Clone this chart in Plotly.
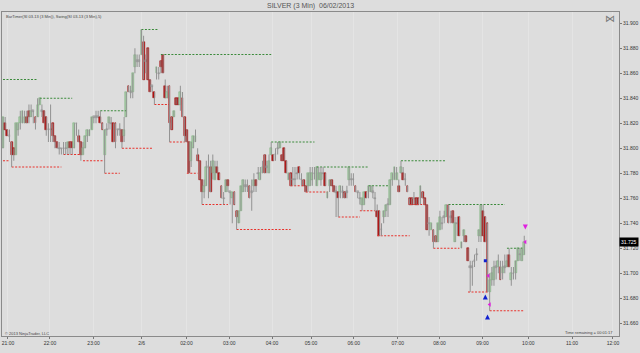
import plotly.graph_objects as go

# ---------------- data ----------------
opens = [
 31.800,31.820,31.815,31.810,31.805,31.800,31.795,31.815,31.820,31.820,
 31.820,31.825,31.830,31.825,31.830,31.825,31.825,31.835,31.830,31.830,
 31.825,31.815,31.815,31.820,31.810,31.805,31.800,31.800,31.800,31.800,
 31.800,31.805,31.805,31.800,31.820,31.810,31.805,31.795,31.800,31.810,
 31.810,31.815,31.825,31.825,31.825,31.825,31.820,31.795,31.815,31.820,
 31.820,31.820,31.820,31.815,31.815,31.815,31.810,31.825,31.850,31.845,
 31.845,31.865,31.870,31.870,31.875,31.885,31.870,31.880,31.855,31.850,
 31.845,31.860,31.860,31.870,31.875,31.850,31.840,31.850,31.825,31.825,
 31.840,31.840,31.835,31.840,31.825,31.815,31.805,31.790,31.800,31.805,
 31.795,31.790,31.775,31.765,31.770,31.785,31.785,31.780,31.775,31.785,
 31.780,31.770,31.760,31.765,31.775,31.765,31.760,31.765,31.750,31.740,
 31.750,31.765,31.770,31.770,31.770,31.765,31.770,31.775,31.780,31.775,
 31.780,31.795,31.785,31.780,31.795,31.795,31.795,31.800,31.800,31.795,
 31.800,31.790,31.775,31.780,31.775,31.775,31.780,31.785,31.775,31.775,
 31.770,31.770,31.770,31.775,31.780,31.770,31.775,31.775,31.780,31.780,
 31.760,31.770,31.775,31.770,31.765,31.765,31.765,31.765,31.765,31.765,
 31.775,31.775,31.775,31.770,31.765,31.760,31.755,31.755,31.765,31.765,
 31.765,31.765,31.760,31.750,31.750,31.735,31.745,31.750,31.755,31.755,
 31.775,31.775,31.775,31.770,31.780,31.780,31.775,31.770,31.760,31.760,
 31.760,31.760,31.760,31.760,31.765,31.760,31.755,31.740,31.735,31.735,
 31.730,31.725,31.735,31.740,31.745,31.745,31.755,31.745,31.750,31.725,
 31.740,31.745,31.720,31.730,31.730,31.720,31.705,31.705,31.710,31.715,
 31.730,31.730,31.750,31.745,31.740,31.685,31.695,31.695,31.705,31.705,
 31.705,31.700,31.705,31.705,31.715,31.695,31.700,31.700,31.710,31.715,
 31.710,31.715]
highs = [
 31.825,31.825,31.815,31.815,31.805,31.800,31.820,31.820,31.830,31.830,
 31.830,31.830,31.835,31.835,31.830,31.825,31.840,31.840,31.835,31.830,
 31.825,31.820,31.835,31.820,31.810,31.805,31.805,31.800,31.805,31.805,
 31.805,31.805,31.805,31.820,31.820,31.815,31.805,31.805,31.810,31.815,
 31.815,31.825,31.825,31.830,31.830,31.830,31.820,31.815,31.820,31.825,
 31.825,31.820,31.820,31.815,31.820,31.815,31.825,31.845,31.850,31.850,
 31.860,31.880,31.875,31.875,31.895,31.890,31.875,31.880,31.855,31.850,
 31.845,31.865,31.865,31.870,31.875,31.855,31.850,31.850,31.825,31.830,
 31.840,31.840,31.850,31.845,31.825,31.815,31.805,31.805,31.810,31.815,
 31.800,31.790,31.775,31.775,31.790,31.795,31.790,31.795,31.790,31.790,
 31.780,31.770,31.765,31.775,31.775,31.765,31.765,31.765,31.750,31.750,
 31.770,31.775,31.775,31.775,31.770,31.775,31.780,31.775,31.785,31.785,
 31.790,31.795,31.790,31.795,31.805,31.795,31.800,31.805,31.805,31.795,
 31.800,31.790,31.780,31.780,31.785,31.785,31.785,31.785,31.780,31.775,
 31.770,31.780,31.785,31.785,31.785,31.785,31.785,31.785,31.785,31.780,
 31.765,31.775,31.775,31.770,31.770,31.765,31.770,31.770,31.765,31.770,
 31.785,31.780,31.780,31.770,31.765,31.765,31.760,31.765,31.765,31.770,
 31.770,31.770,31.765,31.755,31.750,31.740,31.750,31.755,31.760,31.775,
 31.780,31.785,31.785,31.775,31.790,31.785,31.780,31.770,31.760,31.760,
 31.765,31.760,31.760,31.770,31.765,31.760,31.755,31.745,31.740,31.735,
 31.730,31.740,31.750,31.745,31.750,31.755,31.755,31.750,31.750,31.745,
 31.745,31.745,31.725,31.735,31.730,31.720,31.710,31.710,31.715,31.720,
 31.735,31.755,31.755,31.745,31.740,31.700,31.705,31.710,31.710,31.715,
 31.710,31.710,31.715,31.715,31.720,31.705,31.705,31.710,31.720,31.720,
 31.720,31.730]
lows = [
 31.800,31.815,31.810,31.805,31.785,31.790,31.795,31.810,31.815,31.820,
 31.820,31.820,31.820,31.825,31.820,31.815,31.825,31.835,31.825,31.820,
 31.810,31.805,31.805,31.805,31.800,31.800,31.795,31.795,31.795,31.795,
 31.795,31.795,31.795,31.800,31.810,31.805,31.790,31.795,31.800,31.805,
 31.810,31.815,31.820,31.820,31.825,31.820,31.815,31.780,31.810,31.815,
 31.815,31.805,31.800,31.810,31.810,31.800,31.805,31.825,31.845,31.840,
 31.840,31.860,31.865,31.865,31.875,31.855,31.860,31.855,31.845,31.845,
 31.835,31.855,31.855,31.860,31.860,31.840,31.840,31.805,31.815,31.825,
 31.835,31.835,31.830,31.825,31.805,31.805,31.780,31.785,31.800,31.805,
 31.790,31.775,31.755,31.760,31.770,31.760,31.765,31.775,31.775,31.780,
 31.775,31.760,31.755,31.765,31.765,31.755,31.740,31.755,31.735,31.740,
 31.750,31.765,31.765,31.765,31.760,31.750,31.765,31.765,31.775,31.775,
 31.780,31.780,31.780,31.780,31.795,31.790,31.790,31.795,31.800,31.790,
 31.790,31.780,31.775,31.770,31.770,31.770,31.775,31.775,31.770,31.770,
 31.765,31.765,31.770,31.770,31.775,31.770,31.775,31.770,31.775,31.770,
 31.760,31.765,31.770,31.765,31.745,31.745,31.760,31.760,31.760,31.760,
 31.770,31.770,31.770,31.765,31.760,31.755,31.750,31.755,31.760,31.760,
 31.765,31.760,31.750,31.745,31.730,31.730,31.740,31.745,31.745,31.755,
 31.770,31.775,31.775,31.765,31.780,31.775,31.770,31.765,31.755,31.755,
 31.755,31.755,31.755,31.755,31.760,31.755,31.735,31.730,31.735,31.720,
 31.725,31.725,31.735,31.735,31.740,31.745,31.740,31.740,31.740,31.725,
 31.730,31.730,31.720,31.725,31.725,31.710,31.685,31.690,31.705,31.710,
 31.725,31.725,31.730,31.725,31.685,31.670,31.690,31.690,31.695,31.700,
 31.695,31.695,31.700,31.705,31.705,31.690,31.695,31.695,31.710,31.710,
 31.710,31.715]
closes = [
 31.825,31.815,31.810,31.810,31.795,31.795,31.820,31.820,31.825,31.830,
 31.825,31.820,31.825,31.830,31.830,31.820,31.835,31.840,31.830,31.820,
 31.815,31.815,31.815,31.810,31.805,31.800,31.800,31.800,31.800,31.800,
 31.805,31.800,31.800,31.820,31.820,31.805,31.795,31.800,31.810,31.815,
 31.815,31.825,31.825,31.825,31.825,31.820,31.815,31.815,31.815,31.825,
 31.820,31.805,31.805,31.815,31.815,31.805,31.815,31.845,31.845,31.845,
 31.860,31.875,31.870,31.870,31.895,31.855,31.870,31.855,31.845,31.850,
 31.840,31.865,31.860,31.865,31.860,31.840,31.845,31.820,31.815,31.830,
 31.835,31.835,31.845,31.825,31.810,31.805,31.780,31.805,31.810,31.810,
 31.790,31.775,31.765,31.770,31.785,31.785,31.765,31.790,31.785,31.780,
 31.775,31.760,31.760,31.775,31.770,31.765,31.765,31.755,31.745,31.750,
 31.770,31.775,31.770,31.770,31.760,31.765,31.775,31.770,31.780,31.780,
 31.785,31.780,31.785,31.790,31.800,31.790,31.795,31.800,31.805,31.790,
 31.790,31.780,31.780,31.770,31.775,31.775,31.780,31.780,31.775,31.770,
 31.765,31.780,31.780,31.780,31.780,31.785,31.780,31.780,31.780,31.770,
 31.765,31.775,31.770,31.765,31.765,31.760,31.770,31.765,31.760,31.765,
 31.785,31.775,31.775,31.765,31.765,31.760,31.760,31.765,31.760,31.770,
 31.770,31.765,31.760,31.745,31.730,31.735,31.750,31.755,31.755,31.775,
 31.780,31.785,31.780,31.765,31.785,31.775,31.775,31.765,31.755,31.755,
 31.760,31.755,31.755,31.770,31.760,31.755,31.735,31.740,31.740,31.725,
 31.725,31.740,31.745,31.740,31.745,31.755,31.740,31.745,31.740,31.740,
 31.740,31.730,31.725,31.735,31.725,31.710,31.705,31.705,31.710,31.715,
 31.735,31.755,31.730,31.725,31.685,31.695,31.700,31.705,31.705,31.710,
 31.695,31.705,31.705,31.710,31.705,31.700,31.700,31.710,31.720,31.715,
 31.720,31.725]

# swing indicator lines (bar index from/to, price)
hi_start = [0, 17, 45, 64, 73, 124, 145, 169, 184, 206, 233]
hi_end   = [16, 32, 57, 72, 124, 144, 169, 178, 205, 232, 240]
hi_price = [31.855, 31.840, 31.830, 31.895, 31.875, 31.805, 31.785, 31.770, 31.790, 31.755, 31.720]
lo_start = [0, 4, 28, 37, 47, 55, 70, 77, 85, 92, 108, 133, 140, 155, 165, 173, 188, 199, 215, 225]
lo_end   = [3, 27, 36, 47, 54, 69, 77, 84, 90, 104, 133, 139, 150, 165, 172, 188, 195, 211, 224, 241]
lo_price = [31.790, 31.785, 31.795, 31.790, 31.780, 31.800, 31.835, 31.805, 31.780, 31.755,
            31.735, 31.770, 31.765, 31.745, 31.750, 31.730, 31.755, 31.720, 31.685, 31.670]

# signal markers
blue_x = [223, 224]
blue_y = [31.683, 31.667]
blue_dot_x = [223]
blue_dot_y = [31.710]
mag_x = [224.4, 225, 241.5]
mag_y = [31.698, 31.675, 31.725]
mag_dn_x = [241.5]
mag_dn_y = [31.735]

# axis ticks
x_tick_pos = [2.3, 21.7, 41.9, 64.1, 84.8, 104.6, 124.4, 142.4, 162.2, 182.5, 201.8, 221.7, 242.9, 263.1, 282]
x_tick_txt = ["21:00", "22:00", "23:00", "2/6", "02:00", "03:00", "04:00", "05:00",
              "06:00", "07:00", "08:00", "09:00", "10:00", "11:00", "12:00"]
y_tick_vals = [31.66, 31.68, 31.70, 31.72, 31.74, 31.76, 31.78, 31.80, 31.82, 31.84, 31.86, 31.88, 31.90]
last_price = 31.725

# ---------------- figure ----------------
n = len(closes)
idx = list(range(n))

wx, wy = [], []
for i in idx:
    wx += [i, i, None]
    wy += [lows[i], highs[i], None]

base, hgt, col, lcol = [], [], [], []
for o, c in zip(opens, closes):
    if c > o:
        base.append(o); hgt.append(c - o); col.append('#a8d8a8'); lcol.append('#78aa78')
    elif c < o:
        base.append(c); hgt.append(o - c); col.append('#b80000'); lcol.append('#900000')
    else:
        base.append(o - 0.0006); hgt.append(0.0012); col.append('#ababab'); lcol.append('#969696')

fig = go.Figure()

def seg_trace(starts, ends, prices, color):
    xs, ys = [], []
    for s, e, p in zip(starts, ends, prices):
        xs += [s, e, None]
        ys += [p, p, None]
    return go.Scatter(x=xs, y=ys, mode='lines', line=dict(color=color, width=1, dash='2px,1.5px'),
                      hoverinfo='skip', showlegend=False)

fig.add_trace(seg_trace(hi_start, hi_end, hi_price, '#3a8a3a'))
fig.add_trace(seg_trace(lo_start, lo_end, lo_price, '#e8302a'))
fig.add_trace(go.Scatter(x=wx, y=wy, mode='lines', line=dict(color='#929292', width=1),
                         hoverinfo='skip', showlegend=False))
fig.add_trace(go.Bar(x=idx, y=hgt, base=base, width=0.85,
                     marker=dict(color=col, line=dict(color=lcol, width=0.5)),
                     showlegend=False))
fig.add_trace(go.Scatter(x=blue_x, y=blue_y, mode='markers',
                         marker=dict(symbol='arrow-up', size=5, color='#1020d0'), showlegend=False))
fig.add_trace(go.Scatter(x=blue_dot_x, y=blue_dot_y, mode='markers',
                         marker=dict(symbol='square', size=3, color='#1020d0'), showlegend=False))
fig.add_trace(go.Scatter(x=mag_x, y=mag_y, mode='markers',
                         marker=dict(symbol='triangle-left', size=4, color='#e020e0'), showlegend=False))
fig.add_trace(go.Scatter(x=mag_dn_x, y=mag_dn_y, mode='markers',
                         marker=dict(symbol='arrow-down', size=5, color='#e020e0'), showlegend=False))

bg = '#dddddd'
fig.update_layout(
    width=640, height=353,
    margin=dict(l=1, r=20, t=12, b=17),
    paper_bgcolor=bg, plot_bgcolor=bg,
    bargap=0, barmode='overlay',
    font=dict(family='Liberation Sans, Arial, sans-serif', color='#333333'),
    xaxis=dict(range=[-0.46, 284.8], tickvals=x_tick_pos, ticktext=x_tick_txt,
               tickfont=dict(size=5), ticks='outside', ticklen=2, tickcolor='#777777',
               showgrid=True, gridcolor='#e4e4e4', gridwidth=1, zeroline=False,
               showline=True, linecolor='#8a8a8a', linewidth=1, mirror=True, fixedrange=True),
    yaxis=dict(range=[31.6498, 31.909], side='right', tickvals=y_tick_vals,
               ticktext=[f"{v:.3f}" for v in y_tick_vals], tickfont=dict(size=5),
               ticks='outside', ticklen=2, tickcolor='#777777',
               showgrid=False, zeroline=False, showline=True, linecolor='#8a8a8a',
               linewidth=1, mirror=True, fixedrange=True),
    annotations=[
        dict(text="SILVER (3 Min)  06/02/2013", xref='paper', yref='paper', x=0.5, y=1.018,
             xanchor='center', yanchor='middle', showarrow=False, font=dict(size=7, color='#555555')),
        dict(text="BarTimer(SI 03-13 (3 Min)), Swing(SI 03-13 (3 Min),5)", xref='paper', yref='paper',
             x=0.003, y=0.985, xanchor='left', yanchor='middle', showarrow=False,
             font=dict(size=4, color='#444444')),
        dict(text="⋈", xref='paper', yref='paper', x=0.985, y=0.98, xanchor='center', yanchor='middle',
             showarrow=False, font=dict(size=10, color='#777777')),
        dict(text="© 2013 NinjaTrader, LLC", xref='paper', yref='paper', x=0.002, y=0.009,
             xanchor='left', yanchor='middle', showarrow=False, font=dict(size=4, color='#444444')),
        dict(text="Time remaining = 00:01:17", xref='paper', yref='paper', x=0.993, y=0.012,
             xanchor='right', yanchor='middle', showarrow=False, font=dict(size=4, color='#444444')),
        dict(text=f"{last_price:.3f}", xref='paper', yref='y', x=1.0, y=last_price, xanchor='left',
             yanchor='middle', showarrow=False, bgcolor='#000000', borderpad=1,
             font=dict(size=5, color='#ffffff')),
    ],
)

fig.write_html("out.html")
